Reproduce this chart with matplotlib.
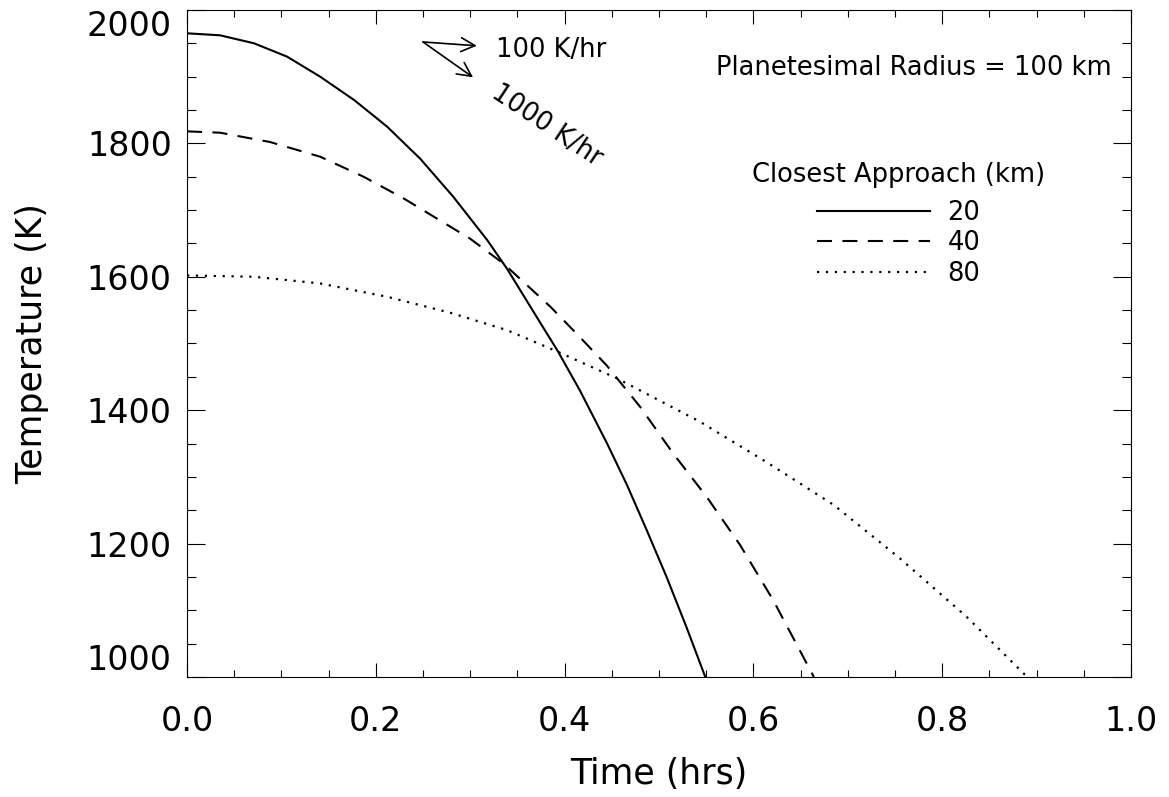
#!/usr/bin/python
import matplotlib
matplotlib.use("Agg")
import matplotlib.pyplot as plt
from matplotlib.ticker import MultipleLocator

# Closest approach 20 km (solid)
time_20 = [0.0, 0.035, 0.071, 0.106, 0.141, 0.177, 0.212, 0.247, 0.282, 0.318,
           0.339, 0.379, 0.393, 0.416, 0.445, 0.466, 0.487, 0.508, 0.529, 0.549]
temp_20 = [1965, 1962, 1950, 1930, 1900, 1865, 1825, 1777, 1720, 1655,
           1612, 1520, 1488, 1430, 1350, 1288, 1220, 1150, 1075, 1000]

# Closest approach 40 km (dashed)
time_40 = [0.0, 0.035, 0.088, 0.141, 0.187, 0.23, 0.265, 0.30, 0.335, 0.385,
           0.4145, 0.4446, 0.48, 0.515, 0.5505, 0.5858, 0.621, 0.6547, 0.664]
temp_40 = [1818, 1816, 1802, 1780, 1750, 1717, 1687, 1657, 1620, 1555,
           1512, 1467, 1405, 1335, 1270, 1198, 1115, 1025, 1000]

# Closest approach 80 km (dotted)
time_80 = [0.0, 0.071, 0.141, 0.212, 0.279, 0.339, 0.392, 0.455, 0.543,
           0.614, 0.685, 0.755, 0.826, 0.89]
temp_80 = [1602, 1600, 1590, 1570, 1546, 1520, 1488, 1448, 1383,
           1322, 1258, 1178, 1090, 1000]

approach_labels = ["20", "40", "80"]
x_ticks = [0.0, 0.2, 0.4, 0.6, 0.8, 1.0]
y_ticks = [1000, 1200, 1400, 1600, 1800, 2000]

# slope indicators (start point, 100 K/hr end, 1000 K/hr end)
slope_start = (0.25, 1952)
slope_100 = (0.307, 1946.3)
slope_1000 = (0.303, 1899)


def main():
    plt.rcParams['font.family'] = 'DejaVu Sans'
    fig = plt.figure(figsize=(11.69, 7.97), dpi=100)
    ax = fig.add_axes([0.160, 0.1506, 0.8075, 0.8369])

    ax.plot(time_20, temp_20, color="black", linestyle="-", linewidth=1.5,
            label=approach_labels[0])
    ax.plot(time_40, temp_40, color="black", linestyle=(0, (7.2, 5)), linewidth=1.5,
            label=approach_labels[1])
    ax.plot(time_80, temp_80, color="black", linestyle=(0, (1, 3)), linewidth=1.6,
            label=approach_labels[2])

    ax.set_xlim(0, 1.0)
    ax.set_ylim(1000, 2000)
    ax.set_xticks(x_ticks)
    ax.set_yticks(y_ticks)
    ax.xaxis.set_minor_locator(MultipleLocator(0.05))
    ax.yaxis.set_minor_locator(MultipleLocator(50))
    ax.set_xticklabels(["%.1f" % v for v in x_ticks])

    ax.tick_params(axis="both", which="both", direction="in", top=True, right=True,
                   width=0.8, labelsize=24)
    ax.tick_params(axis="x", which="major", length=10, pad=20)
    ax.tick_params(axis="x", which="minor", length=5)
    ax.tick_params(axis="y", which="major", length=13.3, pad=11)
    ax.tick_params(axis="y", which="minor", length=6.5)
    for s in ax.spines.values():
        s.set_linewidth(0.8)

    ax.set_xlabel("Time (hrs)", fontsize=25, labelpad=14)
    ax.set_ylabel("Temperature (K)", fontsize=25, labelpad=27)

    ax.text(0.98, 0.913, "Planetesimal Radius = 100 km", transform=ax.transAxes,
            ha="right", va="center", fontsize=18.5)

    arrow = dict(arrowstyle="->,head_length=0.5,head_width=0.25", color="black",
                 lw=1.2, shrinkA=0, shrinkB=0, mutation_scale=20)
    ax.annotate("", xy=slope_100, xytext=slope_start, arrowprops=arrow)
    ax.annotate("", xy=slope_1000, xytext=slope_start, arrowprops=arrow)
    ax.text(0.327, 1940, "100 K/hr", ha="left", va="center", fontsize=18.5)
    ax.text(0.381, 1826, "1000 K/hr", ha="center", va="center", fontsize=18.5,
            rotation=-33.6, rotation_mode="anchor")

    leg = ax.legend(title="Closest Approach (km)", frameon=False, fontsize=18.5,
                    title_fontsize=18.5, loc="upper left", bbox_to_anchor=(0.5805, 0.798),
                    borderaxespad=0, borderpad=0.66, handlelength=4.4,
                    handletextpad=0.7, labelspacing=0.17)
    leg._legend_box.align = "center"
    # bigger gap between title and entries
    leg._legend_box.sep = 0.17 * 18.5 + 5.8

    # keep end labels inside the box like the original
    fig.canvas.draw()
    for tick in ax.yaxis.get_major_ticks():
        if tick.get_loc() == y_ticks[0]:
            tick.label1.set_verticalalignment("bottom")
        elif tick.get_loc() == y_ticks[-1]:
            tick.label1.set_verticalalignment("top")

    plt.savefig("out.png", dpi=100)


if __name__ == "__main__":
    main()
